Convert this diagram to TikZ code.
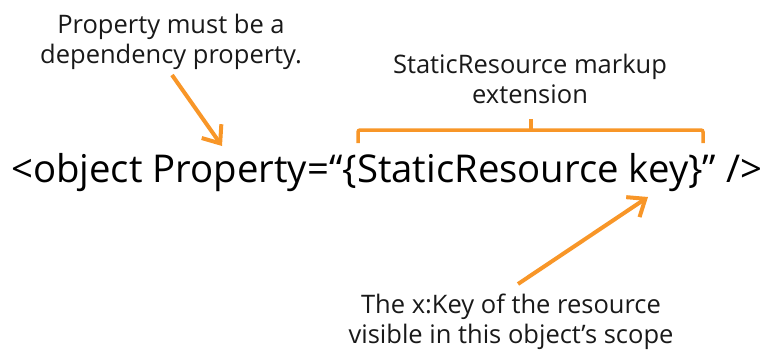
\documentclass[tikz,border=0pt]{standalone}
\usepackage{fontspec}
\setmainfont{Open Sans}
\usetikzlibrary{arrows.meta}
\definecolor{orng}{RGB}{248,150,40}
\begin{document}
\begin{tikzpicture}[x=1pt,y=-1pt,
  lbl/.style={align=center, font=\fontsize{25.5}{30}\selectfont, inner sep=0pt, anchor=base, text=black!90},
  callout/.style={draw=orng, line width=4pt, -{Straight Barb[length=15pt,width=24pt,line width=4pt]}},
  bracestyle/.style={draw=orng, line width=3.5pt, rounded corners=2pt}]
\useasboundingbox (0,0) rectangle (773,354);
% main text
\node[anchor=base west, inner sep=0pt] (main) at (11,182)
  {\resizebox{751pt}{!}{\fontsize{33}{40}\selectfont <object Property=“\{StaticResource key\}” />}};
% labels (anchor = baseline of the last line)
\node[lbl] (dep) at (171,63) {Property must be a\\dependency property.};
\node[lbl] (ext) at (530,103) {StaticResource markup\\extension};
\node[lbl] (keylbl) at (511,343) {The x:Key of the resource\\visible in this object’s scope};
% arrows
\coordinate (a1s) at (172,75);
\coordinate (a1e) at (222,146);
\coordinate (a2s) at (518,284);
\coordinate (a2e) at (648,197);
\draw[callout] (a1s) -- (a1e);
\draw[callout] (a2s) -- (a2e);
% brace
\coordinate (bl) at (358,143);
\coordinate (br) at (703,143);
\coordinate (bt) at (531,119);
\draw[bracestyle] (bl) -- (358,130) -- (703,130) -- (br);
\draw[bracestyle] (531,130) -- (bt);
\end{tikzpicture}
\end{document}
